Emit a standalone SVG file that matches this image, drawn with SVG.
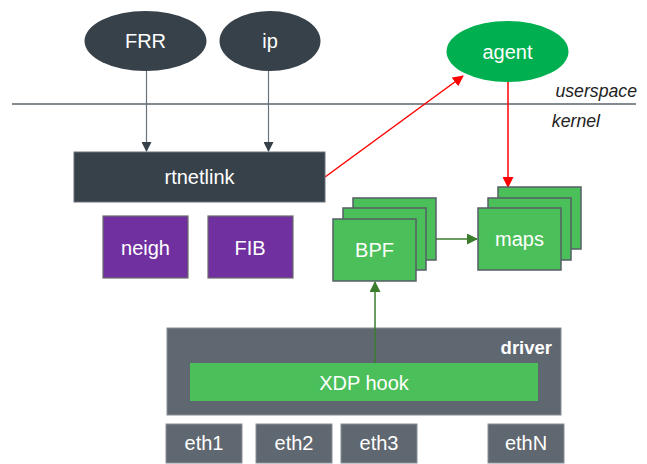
<svg xmlns="http://www.w3.org/2000/svg" width="647" height="464" viewBox="0 0 647 464">
<style>
text{font-family:"Liberation Sans",Arial,sans-serif;fill:#fff;text-anchor:middle}
.lbl{font-size:20px}
.dark{fill:#37414a}
.purple{fill:#7030a0;stroke:#6b6b6b;stroke-width:1.2}
.gbox{fill:#4bbf5a;stroke:#555f66;stroke-width:1.5}
.gray{fill:#5f6770;stroke:#8a9096;stroke-width:1}
.side{font-size:17.7px;font-style:italic;fill:#222;text-anchor:end}
.ga{stroke:#68737d;stroke-width:1.2;fill:none}
.ra{stroke:#ff0000;stroke-width:1.5;fill:none}
.gr{stroke:#3a7d2c;stroke-width:1.5;fill:none}
</style>
<defs>
<marker id="mg" markerWidth="10" markerHeight="10" refX="9" refY="5" orient="auto" markerUnits="userSpaceOnUse"><path d="M0,0 L10,5 L0,10 z" fill="#37414a"/></marker>
<marker id="mr" markerWidth="11" markerHeight="11" refX="10" refY="5.5" orient="auto" markerUnits="userSpaceOnUse"><path d="M0,0 L11,5.5 L0,11 z" fill="#ff0000"/></marker>
<marker id="mgr" markerWidth="11" markerHeight="11" refX="10" refY="5.5" orient="auto" markerUnits="userSpaceOnUse"><path d="M0,0 L11,5.5 L0,11 z" fill="#3a7d2c"/></marker>
</defs>
<line x1="12" y1="104" x2="636" y2="104" stroke="#5a636b" stroke-width="1.5"/>
<text class="side" x="637" y="97">userspace</text>
<text class="side" x="600" y="127">kernel</text>
<g id="driver">
<rect class="gray" x="167" y="328" width="394" height="87"/>
<text x="552" y="354" style="font-size:18.5px;font-weight:bold;text-anchor:end">driver</text>
</g>
<g id="xdp">
<rect x="190" y="363" width="348" height="38" fill="#4bbf5a"/>
<text class="lbl" x="364" y="390">XDP hook</text>
</g>
<g id="connectors">
<line class="ga" x1="146.5" y1="71" x2="146.5" y2="151" marker-end="url(#mg)"/>
<line class="ga" x1="268.5" y1="71" x2="268.5" y2="151" marker-end="url(#mg)"/>
<line class="ra" x1="325" y1="177" x2="463" y2="76" marker-end="url(#mr)"/>
<line class="ra" x1="508" y1="82" x2="508" y2="187" marker-end="url(#mr)"/>
<line class="gr" x1="427" y1="239" x2="477" y2="239" marker-end="url(#mgr)"/>
<line class="gr" x1="375" y1="363" x2="375" y2="282" marker-end="url(#mgr)"/>
</g>
<g id="frr">
<ellipse class="dark" cx="145.5" cy="41" rx="61" ry="30"/>
<text class="lbl" x="145.5" y="48">FRR</text>
</g>
<g id="ip">
<ellipse class="dark" cx="270" cy="41" rx="50.5" ry="30"/>
<text class="lbl" x="270" y="48">ip</text>
</g>
<g id="agent">
<ellipse cx="507.5" cy="51.5" rx="61" ry="30.5" fill="#00b050"/>
<text class="lbl" x="507.5" y="59">agent</text>
</g>
<g id="rtnetlink">
<rect class="dark" x="74" y="152" width="251" height="50" stroke="#6b737a" stroke-width="1"/>
<text class="lbl" x="199.5" y="184">rtnetlink</text>
</g>
<g id="neigh">
<rect class="purple" x="103" y="216" width="85" height="62"/>
<text class="lbl" x="145.5" y="255">neigh</text>
</g>
<g id="fib">
<rect class="purple" x="208" y="216" width="85" height="62"/>
<text class="lbl" x="250" y="255">FIB</text>
</g>
<g id="bpf">
<rect class="gbox" x="353" y="198" width="83" height="62"/>
<rect class="gbox" x="343" y="208" width="83" height="62"/>
<rect class="gbox" x="333" y="219" width="83" height="62"/>
<text class="lbl" x="374.5" y="257">BPF</text>
</g>
<g id="maps">
<rect class="gbox" x="498" y="187" width="83" height="62"/>
<rect class="gbox" x="488" y="198" width="83" height="62"/>
<rect class="gbox" x="478" y="208" width="83" height="62"/>
<text class="lbl" x="519.5" y="246">maps</text>
</g>
<g id="eth1">
<rect class="gray" x="166" y="424" width="76" height="39"/>
<text class="lbl" x="204" y="450">eth1</text>
</g>
<g id="eth2">
<rect class="gray" x="256" y="424" width="76" height="39"/>
<text class="lbl" x="294" y="450">eth2</text>
</g>
<g id="eth3">
<rect class="gray" x="341" y="424" width="76" height="39"/>
<text class="lbl" x="379" y="450">eth3</text>
</g>
<g id="ethN">
<rect class="gray" x="488" y="424" width="76" height="39"/>
<text class="lbl" x="526" y="450">ethN</text>
</g>
</svg>
